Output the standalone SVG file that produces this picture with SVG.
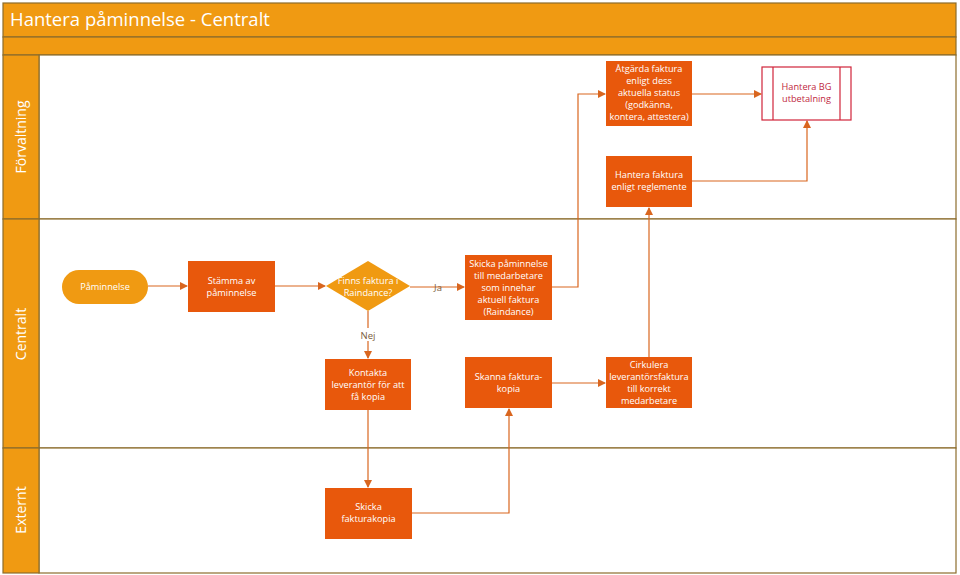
<svg xmlns="http://www.w3.org/2000/svg" width="960" height="575" viewBox="0 0 960 575">
<defs>
<marker id="ah" markerWidth="8" markerHeight="8" refX="7" refY="4" orient="auto" markerUnits="userSpaceOnUse">
<path d="M0,0 L8,4 L0,8 Z" fill="#D9661F"/>
</marker>
<style>
.lane{fill:#F09A12;stroke:#8C6D2C;stroke-width:1.2}
.body{fill:#FFFFFF;stroke:#8C6D2C;stroke-width:1.2}
.lt{font-family:"Open Sans","Noto Sans",sans-serif;font-size:14px;fill:#FFFFFF;text-anchor:middle}
.box{fill:#E8580C}
.light{fill:#F09A12}
.nt{font-family:"Open Sans","Noto Sans",sans-serif;font-size:9.2px;fill:#FFFFFF;text-anchor:middle}
.conn{fill:none;stroke:#D9661F;stroke-width:1.2}
.cl{font-family:"Open Sans","Noto Sans",sans-serif;font-size:9.5px;fill:#7A5C3C;text-anchor:middle}
</style>
</defs>
<rect x="0" y="0" width="960" height="575" fill="#FFFFFF"/>
<g id="frame">
<rect class="lane" x="3" y="3" width="953" height="34"/>
<text x="10" y="26" font-family="'Open Sans','Noto Sans',sans-serif" font-size="18.5" fill="#FFFFFF">Hantera påminnelse - Centralt</text>
<rect class="lane" x="3" y="37" width="953" height="18"/>
<rect class="body" x="39" y="55" width="917" height="164"/>
<rect class="body" x="39" y="219" width="917" height="229"/>
<rect class="body" x="39" y="448" width="917" height="125"/>
<rect class="lane" x="3" y="55" width="36" height="164"/>
<rect class="lane" x="3" y="219" width="36" height="229"/>
<rect class="lane" x="3" y="448" width="36" height="125"/>
<text class="lt" transform="translate(26,137) rotate(-90)">Förvaltning</text>
<text class="lt" transform="translate(26,334) rotate(-90)">Centralt</text>
<text class="lt" transform="translate(26,510) rotate(-90)">Externt</text>
</g>
<g id="connectors">
<path class="conn" d="M148,286 H187" marker-end="url(#ah)"/>
<path class="conn" d="M275,286 H325" marker-end="url(#ah)"/>
<path class="conn" d="M410,287 H464" marker-end="url(#ah)"/>
<path class="conn" d="M368,311 V358" marker-end="url(#ah)"/>
<path class="conn" d="M368,410 V487" marker-end="url(#ah)"/>
<path class="conn" d="M412,513 H509 V409" marker-end="url(#ah)"/>
<path class="conn" d="M552,383 H605" marker-end="url(#ah)"/>
<path class="conn" d="M649,357 V208" marker-end="url(#ah)"/>
<path class="conn" d="M552,287 H578 V94 H605" marker-end="url(#ah)"/>
<path class="conn" d="M692,94 H761" marker-end="url(#ah)"/>
<path class="conn" d="M692,181 H807 V121" marker-end="url(#ah)"/>
<text class="cl" x="438" y="290.5">Ja</text>
<rect x="359" y="328" width="18" height="13" fill="#FFFFFF"/>
<text class="cl" x="368" y="338.5">Nej</text>
</g>
<g id="paminnelse">
<rect class="light" x="62" y="270" width="86" height="34" rx="17"/>
<text class="nt" x="105" y="290">Påminnelse</text>
</g>
<g id="stamma">
<rect class="box" x="188" y="261" width="87" height="51"/>
<text class="nt" x="231.5" y="284">Stämma av</text>
<text class="nt" x="231.5" y="296">påminnelse</text>
</g>
<g id="finns">
<polygon class="light" points="368,261 410,286 368,311 326,286"/>
<text class="nt" x="368" y="284">Finns faktura i</text>
<text class="nt" x="368" y="296">Raindance?</text>
</g>
<g id="kontakta">
<rect class="box" x="325" y="359" width="86" height="51"/>
<text class="nt" x="368" y="376">Kontakta</text>
<text class="nt" x="368" y="388">leverantör för att</text>
<text class="nt" x="368" y="400">få kopia</text>
</g>
<g id="skicka-paminnelse">
<rect class="box" x="465" y="255" width="87" height="65"/>
<text class="nt" x="508.5" y="267">Skicka påminnelse</text>
<text class="nt" x="508.5" y="279">till medarbetare</text>
<text class="nt" x="508.5" y="291">som innehar</text>
<text class="nt" x="508.5" y="303">aktuell faktura</text>
<text class="nt" x="508.5" y="315">(Raindance)</text>
</g>
<g id="skanna">
<rect class="box" x="465" y="357" width="87" height="51"/>
<text class="nt" x="508.5" y="380">Skanna faktura-</text>
<text class="nt" x="508.5" y="392">kopia</text>
</g>
<g id="cirkulera">
<rect class="box" x="606" y="357" width="86" height="51"/>
<text class="nt" x="649" y="368">Cirkulera</text>
<text class="nt" x="649" y="380">leverantörsfaktura</text>
<text class="nt" x="649" y="392">till korrekt</text>
<text class="nt" x="649" y="404">medarbetare</text>
</g>
<g id="atgarda">
<rect class="box" x="606" y="61" width="86" height="65"/>
<text class="nt" x="649" y="72">Åtgärda faktura</text>
<text class="nt" x="649" y="84">enligt dess</text>
<text class="nt" x="649" y="96">aktuella status</text>
<text class="nt" x="649" y="108">(godkänna,</text>
<text class="nt" x="649" y="120">kontera, attestera)</text>
</g>
<g id="hantera-reglemente">
<rect class="box" x="606" y="156" width="86" height="51"/>
<text class="nt" x="649" y="178">Hantera faktura</text>
<text class="nt" x="649" y="190">enligt reglemente</text>
</g>
<g id="hantera-bg">
<rect x="762" y="67" width="89" height="53" fill="#FFFFFF" stroke="#D0243A" stroke-width="1.2"/>
<line x1="773" y1="67" x2="773" y2="120" stroke="#D0243A" stroke-width="1.2"/>
<line x1="840" y1="67" x2="840" y2="120" stroke="#D0243A" stroke-width="1.2"/>
<text class="nt" x="806.5" y="90" style="fill:#C0283E">Hantera BG</text>
<text class="nt" x="806.5" y="102" style="fill:#C0283E">utbetalning</text>
</g>
<g id="skicka-fakturakopia">
<rect class="box" x="325" y="488" width="87" height="51"/>
<text class="nt" x="368.5" y="510">Skicka</text>
<text class="nt" x="368.5" y="522">fakturakopia</text>
</g>
</svg>
